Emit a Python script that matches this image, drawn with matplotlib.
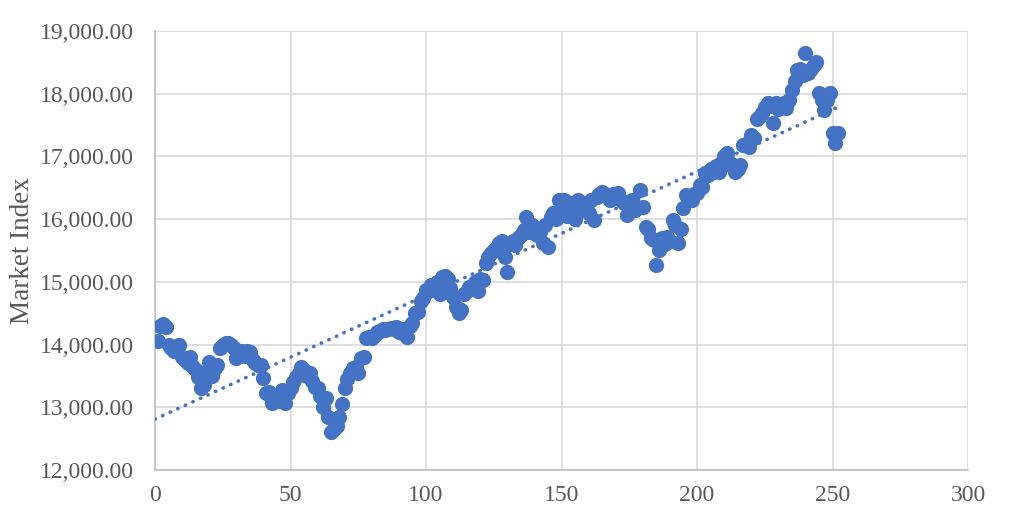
import numpy as np
import matplotlib.pyplot as plt
from matplotlib.ticker import FuncFormatter

# market index by trading day
day = np.arange(1, 253)
index_val = [
    14050, 14300, 14330, 14280, 14000, 13950, 13900, 13980, 14000, 13800,
    13750, 13700, 13800, 13650, 13600, 13480, 13300, 13350, 13550, 13720,
    13500, 13620, 13680, 13950, 14000, 14030, 14020, 13990, 13950, 13780,
    13850, 13900, 13820, 13900, 13880, 13750, 13700, 13670, 13680, 13460,
    13230, 13250, 13070, 13100, 13200, 13100, 13280, 13070, 13230, 13300,
    13400, 13480, 13550, 13640, 13600, 13500, 13550, 13420, 13320, 13300,
    13180, 13000, 13150, 12840, 12600, 12650, 12700, 12840, 13050, 13300,
    13450, 13550, 13620, 13650, 13550, 13780, 13800, 14100, 14120, 14100,
    14150, 14200, 14220, 14250, 14230, 14250, 14270, 14250, 14280, 14200,
    14250, 14170, 14120, 14300, 14350, 14500, 14520, 14700, 14750, 14870,
    14850, 14950, 14920, 15000, 14800, 15080, 15100, 15050, 14900, 14760,
    14600, 14500, 14550, 14800, 14850, 14920, 14900, 15000, 14850, 15050,
    15030, 15300, 15400, 15460, 15500, 15550, 15620, 15650, 15400, 15160,
    15600, 15650, 15580, 15700, 15750, 15830, 16030, 15800, 15900, 15850,
    15750, 15800, 15620, 15900, 15560, 16030, 16090, 16000, 16300, 16100,
    16300, 16050, 16200, 16250, 16000, 16300, 16150, 16250, 16200, 16100,
    16300, 15990, 16350, 16400, 16430, 16400, 16350, 16300, 16400, 16350,
    16410, 16300, 16250, 16070, 16200, 16300, 16150, 16200, 16460, 16190,
    15880, 15850, 15700, 15670, 15270, 15510, 15700, 15600, 15720, 15650,
    15990, 15900, 15620, 15850, 16170, 16380, 16350, 16300, 16400, 16410,
    16550, 16510, 16730, 16700, 16800, 16750, 16850, 16750, 16900, 17000,
    17050, 16900, 16850, 16750, 16800, 16860, 17180, 17200, 17150, 17340,
    17300, 17600, 17630, 17700, 17790, 17850, 17800, 17530, 17850, 17750,
    17800, 17850, 17770, 17900, 18060, 18200, 18380, 18400, 18300, 18650,
    18330, 18400, 18450, 18510, 18010, 17900, 17740, 17900, 18010, 17370,
    17210, 17370,
]
x_ticks = [0, 50, 100, 150, 200, 250, 300]
y_ticks = [12000, 13000, 14000, 15000, 16000, 17000, 18000, 19000]

blue = '#4472c4'
grey_txt = '#595959'
plt.rcParams['font.family'] = ['Liberation Serif', 'DejaVu Serif']

fig = plt.figure(figsize=(10.16, 5.26), dpi=100)
ax = fig.add_axes([0.1526, 0.1065, 0.8002, 0.8346])

y = np.array(index_val, dtype=float)
ax.scatter(day, y, s=120, color=blue, zorder=3, linewidths=0)

# linear trendline
k, b = np.polyfit(day, y, 1)
xt = np.array([0, day[-1]])
ax.plot(xt, k * xt + b, color=blue, linestyle=(0, (0.1, 2.2)), linewidth=2.6,
        dash_capstyle='round', zorder=4)

ax.set_xlim(0, 300)
ax.set_ylim(12000, 19000)
ax.set_xticks(x_ticks)
ax.set_yticks(y_ticks)
ax.yaxis.set_major_formatter(FuncFormatter(lambda v, p: f'{v:,.2f}'))
ax.tick_params(length=0, labelsize=17, labelcolor=grey_txt)
ax.tick_params(axis='y', pad=15)
ax.tick_params(axis='x', pad=11)
ax.grid(True, color='#d9d9d9', linewidth=1.2, zorder=0)
ax.set_axisbelow(True)
for s in ['top', 'right']:
    ax.spines[s].set_visible(False)
for s in ['left', 'bottom']:
    ax.spines[s].set_color('#bfbfbf')
    ax.spines[s].set_linewidth(1.2)
ax.set_ylabel('Market Index', fontsize=19.5, color=grey_txt, labelpad=4)

plt.savefig('out.png', dpi=100)
